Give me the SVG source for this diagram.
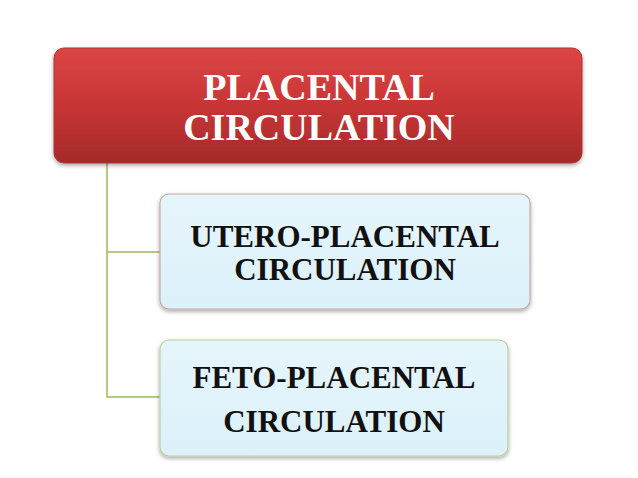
<svg xmlns="http://www.w3.org/2000/svg" width="638" height="478" viewBox="0 0 638 478">
<defs>
<linearGradient id="red" x1="0" y1="0" x2="0" y2="1">
<stop offset="0" stop-color="#dc4545"/>
<stop offset="0.5" stop-color="#c83535"/>
<stop offset="1" stop-color="#a52a2a"/>
</linearGradient>
<linearGradient id="blue" x1="0" y1="0" x2="0" y2="1">
<stop offset="0" stop-color="#e6f5fc"/>
<stop offset="1" stop-color="#dcf1fa"/>
</linearGradient>
<filter id="sh" x="-10%" y="-10%" width="120%" height="130%">
<feGaussianBlur in="SourceAlpha" stdDeviation="2"/>
<feOffset dx="0" dy="2" result="b"/>
<feComponentTransfer><feFuncA type="linear" slope="0.35"/></feComponentTransfer>
<feMerge><feMergeNode/><feMergeNode in="SourceGraphic"/></feMerge>
</filter>
<style>
.t{font-family:"Liberation Serif","Times New Roman",serif;font-weight:bold;text-anchor:middle}
.w{fill:#ffffff;font-size:38px}
.k{fill:#111111;font-size:31px}
.c{fill:none;stroke:#9bbb59;stroke-width:1.5}
</style>
</defs>
<rect width="638" height="478" fill="#ffffff"/>
<g id="connectors">
<path class="c" d="M107 163 V397 H160"/>
<path class="c" d="M107 252 H160"/>
</g>
<g id="root">
<rect x="54" y="48" width="528" height="115" rx="10" fill="url(#red)" stroke="#b03535" stroke-width="1" filter="url(#sh)"/>
<text class="t w" x="319" y="100">PLACENTAL</text>
<text class="t w" x="319" y="140">CIRCULATION</text>
</g>
<g id="utero">
<rect x="160" y="194" width="370" height="115" rx="9" fill="url(#blue)" stroke="#c9a9a6" stroke-width="1.2" filter="url(#sh)"/>
<text class="t k" x="345" y="247">UTERO-PLACENTAL</text>
<text class="t k" x="345" y="280">CIRCULATION</text>
</g>
<g id="feto">
<rect x="160" y="340" width="348" height="116" rx="9" fill="url(#blue)" stroke="#b9d199" stroke-width="1.2" filter="url(#sh)"/>
<text class="t k" x="334" y="388">FETO-PLACENTAL</text>
<text class="t k" x="334" y="432">CIRCULATION</text>
</g>
</svg>
